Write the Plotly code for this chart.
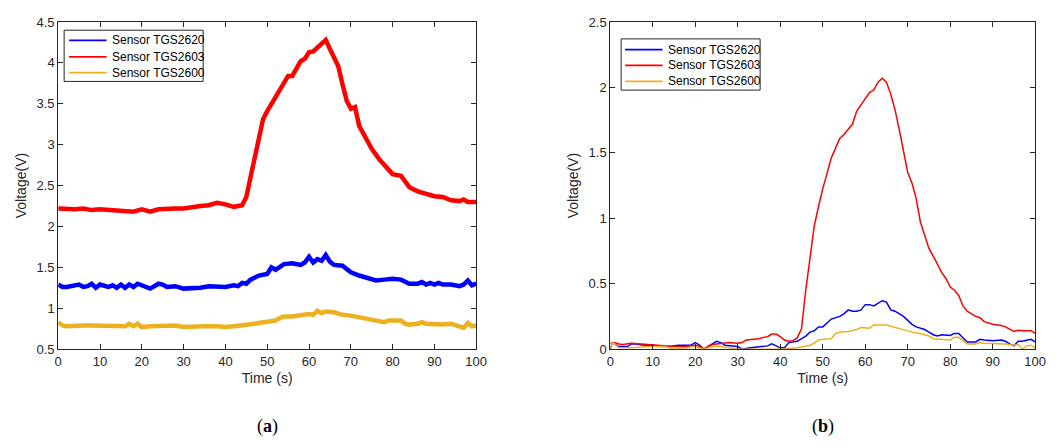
import plotly.graph_objects as go

# ---------------- data: panel (a) raw voltages ----------------
a_red_t = [0,2,4,6,8,10,12,14,16,18,20,22,24,26,28,30,32,34,36,38,40,42,44,45,46,47,48,49,50,52,54,
           55,56,57,58,59,60,61,62,63,64,65,66,67,68,69,70,71,72,73,75,77,79,80,82,84,86,88,90,92,94,96,97,98,100]
a_red_v = [2.22,2.21,2.21,2.22,2.20,2.21,2.20,2.20,2.19,2.18,2.21,2.18,2.21,2.22,2.22,2.22,2.24,2.25,2.26,2.29,2.27,2.24,2.26,
           2.36,2.60,2.83,3.11,3.31,3.41,3.58,3.74,
           3.84,3.84,3.92,4.02,4.05,4.13,4.14,4.19,4.23,4.28,4.17,4.06,3.96,3.74,3.54,3.44,3.46,3.23,3.13,
           2.95,2.81,2.70,2.64,2.62,2.48,2.43,2.40,2.37,2.36,2.32,2.31,2.33,2.30,2.30]

a_blue_t = [0,1,2,3,4,5,6,7,8,9,10,11,12,13,14,15,16,17,18,19,20,
            22,24,25,26,28,30,32,34,36,38,40,42,43,44,45,46,48,50,51,52,53,54,56,58,59,
            60,61,62,63,64,65,66,68,70,72,74,76,78,80,82,84,86,87,88,89,90,91,92,94,96,97,98,99,100]
a_blue_v = [1.29,1.26,1.26,1.27,1.28,1.29,1.26,1.27,1.30,1.25,1.29,1.27,1.26,1.28,1.25,1.29,1.25,1.29,1.26,1.30,1.28,
            1.24,1.30,1.29,1.26,1.27,1.24,1.24,1.25,1.27,1.27,1.26,1.28,1.27,1.31,1.30,
            1.35,1.40,1.42,1.50,1.47,1.51,1.54,1.55,1.53,1.56,
            1.63,1.56,1.60,1.58,1.65,1.57,1.53,1.52,1.44,1.40,1.37,1.34,1.35,1.36,1.35,
            1.30,1.30,1.32,1.29,1.31,1.29,1.31,1.29,1.29,1.27,1.29,1.34,1.28,1.30]

a_yel_t = [0,1,2,4,6,8,10,12,14,16,17,18,19,20,22,25,28,30,33,35,38,40,42,45,47,48,50,52,53,54,
           56,58,60,61,62,63,64,66,68,70,72,74,76,78,79,80,82,83,84,86,87,88,90,92,94,96,97,98,99,100]
a_yel_v = [0.83,0.79,0.78,0.79,0.79,0.79,0.79,0.78,0.79,0.78,0.81,0.78,0.81,0.77,0.78,0.79,0.79,0.77,0.78,0.78,
           0.78,0.77,0.78,0.79,0.81,0.82,0.84,0.85,0.88,0.90,0.90,0.92,0.93,0.92,0.97,0.94,0.96,0.95,0.92,0.91,
           0.89,0.87,0.84,0.83,0.85,0.85,0.85,0.81,0.80,0.81,0.83,0.81,0.80,0.80,0.81,0.78,0.76,0.82,0.78,0.79]

# ---------------- data: panel (b) baseline-corrected ----------------
b_red_t = [0,1,2,3,5,7,10,12,15,18,20,21,22,23,24,25,27,28,30,31,32,34,35,36,37,38,39,40,41,42,
           43,44,45,46,47,48,49,50,52,54,55,56,57,58,59,60,61,62,63,64,65,66,67,68,69,70,71,72,73,74,
           75,77,78,79,80,81,82,83,84,86,87,88,90,92,93,95,96,97,99,100]
b_red_v = [0.044,0.05,0.04,0.035,0.045,0.04,0.03,0.03,0.02,0.02,0.03,0.02,0.0,0.02,0.035,0.04,0.045,0.05,0.045,0.05,
           0.07,0.075,0.08,0.09,0.095,0.115,0.115,0.095,0.07,0.06,0.065,0.086,0.155,0.45,0.70,0.94,1.09,1.225,1.46,1.61,
           1.64,1.68,1.72,1.82,1.87,1.91,1.96,1.98,2.04,2.07,2.04,1.95,1.83,1.68,1.51,1.35,1.27,1.15,0.97,0.86,
           0.77,0.65,0.585,0.54,0.475,0.45,0.41,0.33,0.29,0.25,0.24,0.21,0.19,0.18,0.17,0.135,0.145,0.14,0.14,0.123]

b_blue_t = [0,0.5,1,2,4,5,6,8,10,12,14,16,18,19,20,21,22,24,25,26,27,30,31,33,35,37,38,40,41,42,
            44,45,46,47,48,49,50,51,52,54,55,56,57,58,59,60,61,62,63,64,65,66,67,68,69,70,71,72,74,75,
            76,77,78,80,81,82,83,84,86,87,88,90,92,93,94,95,96,97,99,100]
b_blue_v = [0.0,0.05,0.04,0.02,0.02,0.04,0.04,0.03,0.03,0.02,0.02,0.03,0.03,0.03,0.05,0.03,0.0,0.04,0.06,0.05,
            0.03,0.02,0.0,0.01,0.02,0.025,0.04,0.01,0.01,0.05,0.06,0.08,0.10,0.13,0.14,0.17,0.17,0.20,0.23,0.25,
            0.27,0.30,0.29,0.29,0.30,0.34,0.34,0.33,0.35,0.37,0.36,0.30,0.29,0.27,0.25,0.22,0.19,0.17,0.15,0.13,
            0.11,0.10,0.11,0.105,0.12,0.12,0.09,0.055,0.055,0.075,0.07,0.065,0.07,0.06,0.04,0.025,0.06,0.06,0.075,0.055]

b_yel_t = [0,0.5,1,2,5,10,13,15,20,22,24,26,28,30,35,40,44,46,47,48,49,50,51,52,53,54,56,57,58,59,
           60,61,62,63,64,65,66,68,69,70,71,73,75,76,78,79,80,81,82,83,84,86,87,88,90,93,95,96,97,98,99,100]
b_yel_v = [0.0,0.05,0.04,0.01,0.01,0.02,0.02,0.0,0.02,0.0,0.02,0.02,0.01,0.0,0.0,0.0,0.01,0.02,0.03,0.045,
           0.07,0.075,0.08,0.08,0.12,0.13,0.135,0.14,0.15,0.165,0.165,0.16,0.185,0.185,0.18,0.185,0.175,0.155,0.15,0.14,
           0.13,0.12,0.10,0.08,0.075,0.075,0.07,0.09,0.09,0.065,0.04,0.04,0.05,0.045,0.045,0.04,0.03,0.035,0.0,0.025,
           0.03,0.01]

names = ["Sensor TGS2620", "Sensor TGS2603", "Sensor TGS2600"]
colors = ["#0000FF", "#FF0000", "#EDB120"]
x_ticks = [0, 10, 20, 30, 40, 50, 60, 70, 80, 90, 100]
panel_labels = ["a", "b"]

# ---------------- figure ----------------
W, H = 1059, 448
fig = go.Figure()

a_series = [(a_blue_t, a_blue_v), (a_red_t, a_red_v), (a_yel_t, a_yel_v)]
b_series = [(b_blue_t, b_blue_v), (b_red_t, b_red_v), (b_yel_t, b_yel_v)]

for (t, v), c in zip(a_series, colors):
    fig.add_trace(go.Scatter(x=t, y=v, mode="lines", line=dict(color=c, width=4.5),
                             showlegend=False, xaxis="x", yaxis="y"))
for (t, v), c in zip(b_series, colors):
    fig.add_trace(go.Scatter(x=t, y=v, mode="lines", line=dict(color=c, width=1.5),
                             showlegend=False, xaxis="x2", yaxis="y2"))

axcol = "#262626"
font_fam = "Liberation Sans, Arial, sans-serif"

def xax(domain, anchor):
    return dict(domain=domain, anchor=anchor, range=[0, 100], tickvals=x_ticks,
                ticks="inside", ticklen=5, tickcolor=axcol, showline=True, linecolor=axcol,
                linewidth=1, mirror="ticks", showgrid=False, zeroline=False,
                tickfont=dict(size=13, color=axcol, family=font_fam),
                title=dict(text="Time (s)", font=dict(size=14, color=axcol, family=font_fam), standoff=5))

def yax(domain, anchor, rng):
    return dict(domain=domain, anchor=anchor, range=rng, dtick=0.5, tick0=0,
                ticks="inside", ticklen=5, tickcolor=axcol, showline=True, linecolor=axcol,
                linewidth=1, mirror="ticks", showgrid=False, zeroline=False,
                tickfont=dict(size=13, color=axcol, family=font_fam),
                title=dict(text="Voltage(V)", font=dict(size=14, color=axcol, family=font_fam), standoff=6))

def px(x):
    return x / W

def py(y):
    return 1 - y / H

ydom = [py(354), py(15.5)]

# manual legends (box, line samples, labels)
shapes = []
annotations = []
legend_specs = [
    dict(box=(61, 24, 202, 77), x0=66, x1=104, tx=108, rows=[34.5, 51.5, 68]),
    dict(box=(626, 33, 767, 86), x0=630, x1=668, tx=672, rows=[44, 60.5, 77]),
]
for spec in legend_specs:
    bx0, by0, bx1, by1 = spec["box"]
    shapes.append(dict(type="rect", xref="paper", yref="paper", x0=px(bx0), x1=px(bx1),
                       y0=py(by1), y1=py(by0), line=dict(color=axcol, width=1), fillcolor="white",
                       layer="above"))
    for n, c, ry in zip(names, colors, spec["rows"]):
        shapes.append(dict(type="line", xref="paper", yref="paper", x0=px(spec["x0"]), x1=px(spec["x1"]),
                           y0=py(ry), y1=py(ry), line=dict(color=c, width=1.8), layer="above"))
        annotations.append(dict(text=n, x=px(spec["tx"]), y=py(ry), xref="paper", yref="paper",
                                xanchor="left", yanchor="middle", showarrow=False,
                                font=dict(size=12, color="#000000", family=font_fam)))

for lab, cx in zip(panel_labels, [(55 + 479) / 2, (615 + 1046) / 2]):
    annotations.append(dict(text="(<b>%s</b>)" % lab, x=px(cx), y=py(434), xref="paper", yref="paper",
                            showarrow=False, xanchor="center", yanchor="middle",
                            font=dict(size=18, color="black", family="Liberation Serif, serif")))

fig.update_layout(
    width=W, height=H, margin=dict(l=0, r=0, t=0, b=0),
    paper_bgcolor="white", plot_bgcolor="white", showlegend=False,
    xaxis=xax([px(55), px(479)], "y"),
    yaxis=yax(ydom, "x", [0.5, 4.5]),
    xaxis2=xax([px(615), px(1046)], "y2"),
    yaxis2=yax(ydom, "x2", [0, 2.5]),
    shapes=shapes,
    annotations=annotations,
)

fig.write_html("out.html", config={"displayModeBar": False},
               post_script="document.body.style.margin='0';")
